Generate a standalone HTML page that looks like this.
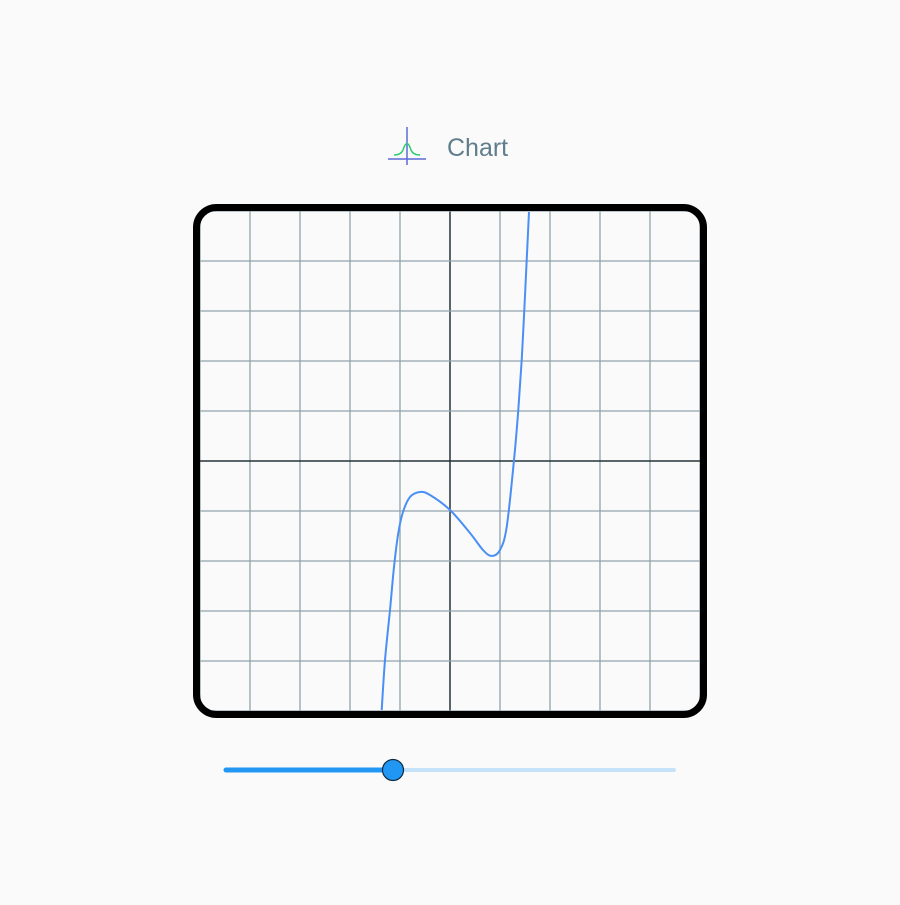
<!DOCTYPE html>
<html><head><meta charset="utf-8"><style>
body{margin:0;background:#fafafa;width:900px;height:900px;overflow:hidden;font-family:"Liberation Sans",sans-serif}
</style></head><body>
<svg width="900" height="900">
<g>
<g stroke="#5c6bd6" fill="none" stroke-width="1.5">
<line x1="407" y1="127" x2="407" y2="165"/>
<line x1="388" y1="159" x2="426" y2="159"/>
<path d="M394 155 Q401 155 403 150 Q407 137 411 150 Q413 155 420 155" stroke="#2ecc71"/>
</g>
<text x="447" y="156" font-size="25" fill="#607d8b">Chart</text>
</g>
<g id="grid"></g>
<path id="curve" fill="none" stroke="#4a8ff5" stroke-width="2"/>
<rect x="196.5" y="207.5" width="507" height="507" rx="20" fill="none" stroke="#000" stroke-width="7"/>
<g>
<line x1="226" y1="770" x2="674" y2="770" stroke="#c6e2f8" stroke-width="4" stroke-linecap="round"/>
<line x1="226" y1="770" x2="393" y2="770" stroke="#2196f3" stroke-width="5" stroke-linecap="round"/>
<circle cx="393" cy="770" r="10.5" fill="#2196f3" stroke="#0d2a40" stroke-width="1.2"/>
</g>
</svg>
<script>
const xTicks=[-5,-4,-3,-2,-1,0,1,2,3,4,5];
const yTicks=[-5,-4,-3,-2,-1,0,1,2,3,4,5];
const curveX=[-1.366,-1.30,-1.20,-1.12,-1.034,-0.94,-0.80,-0.60,-0.40,0,0.40,0.66,0.834,1.00,1.134,1.28,1.366,1.434,1.486,1.534,1.58];
const curveY=[-4.98,-3.98,-2.98,-2.12,-1.44,-1.02,-0.72,-0.62,-0.68,-0.98,-1.44,-1.78,-1.90,-1.78,-1.32,0.02,1.02,2.02,3.02,4.02,4.98];
const sx=v=>450+v*50, sy=v=>461-v*50;
const g=document.getElementById('grid');
const ns='http://www.w3.org/2000/svg';
xTicks.forEach(t=>{const l=document.createElementNS(ns,'line');
l.setAttribute('x1',sx(t));l.setAttribute('x2',sx(t));l.setAttribute('y1',sy(5));l.setAttribute('y2',sy(-5));
l.setAttribute('stroke',t===0?'#263238':'#90a4ae');l.setAttribute('stroke-width',t===0?1.5:1.3);


g.appendChild(l);});
yTicks.forEach(t=>{const l=document.createElementNS(ns,'line');
l.setAttribute('y1',sy(t));l.setAttribute('y2',sy(t));l.setAttribute('x1',sx(-5));l.setAttribute('x2',sx(5));
l.setAttribute('stroke',t===0?'#263238':'#90a4ae');l.setAttribute('stroke-width',t===0?1.5:1.3);


g.appendChild(l);});
const P=curveX.map((x,i)=>[sx(x),sy(curveY[i])]);
let d='M'+P[0][0]+' '+P[0][1];
for(let i=0;i<P.length-1;i++){const p0=P[Math.max(0,i-1)],p1=P[i],p2=P[i+1],p3=P[Math.min(P.length-1,i+2)];
d+=` C${p1[0]+(p2[0]-p0[0])/6} ${p1[1]+(p2[1]-p0[1])/6} ${p2[0]-(p3[0]-p1[0])/6} ${p2[1]-(p3[1]-p1[1])/6} ${p2[0]} ${p2[1]}`;}
document.getElementById('curve').setAttribute('d',d);
</script>
</body></html>
